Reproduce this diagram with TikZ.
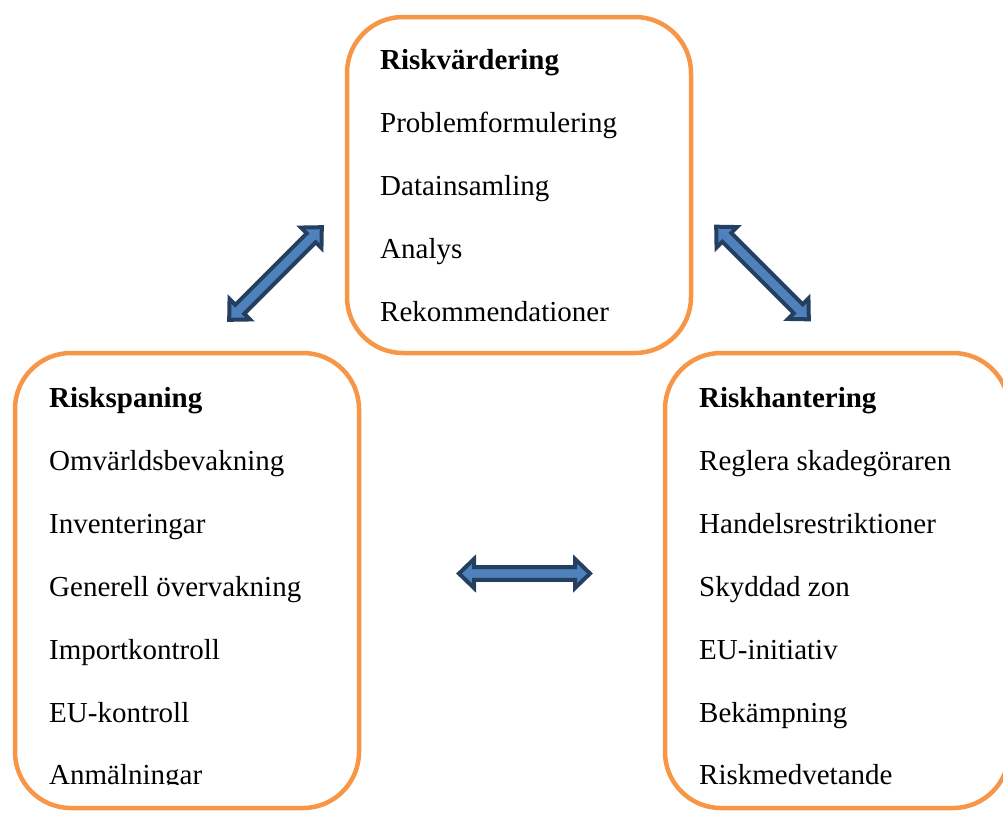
\documentclass[tikz,border=0pt]{standalone}
\usepackage{fontspec}
\setmainfont{Liberation Serif}
\definecolor{boxorange}{HTML}{F79646}
\definecolor{arrowfill}{HTML}{4F81BD}
\definecolor{arrowline}{HTML}{243F60}
\begin{document}
\begin{tikzpicture}[x=1pt,y=1pt,
  panel/.style={draw=boxorange, line width=4.5pt, rounded corners=56pt, fill=white, inner sep=0pt},
  item/.style={anchor=base west, inner sep=0pt, font=\fontsize{29}{34}\selectfont},
  head/.style={item, font=\fontsize{29}{34}\selectfont\bfseries},
  dblarrow/.style={fill=arrowfill, draw=arrowline, line width=4pt, line join=miter}]
\useasboundingbox (0,0) rectangle (1003,-812);
\clip (0,0) rectangle (1003,-812);
% boxes
\node[panel, minimum width=344pt, minimum height=336pt] (vard) at (519,-185) {};
\node[panel, minimum width=344pt, minimum height=455pt] (spaning) at (187,-580.5) {};
\node[panel, minimum width=344pt, minimum height=455pt] (hant) at (837,-580.5) {};
% top texts
\node[head] (v0) at (380,-69) {Riskvärdering};
\node[item] (v1) at (380,-132) {Problemformulering};
\node[item] (v2) at (380,-195) {Datainsamling};
\node[item] (v3) at (380,-258) {Analys};
\node[item] (v4) at (380,-321) {Rekommendationer};
% left texts
\node[head] (s0) at (49,-407) {Riskspaning};
\node[item] (s1) at (49,-470) {Omvärldsbevakning};
\node[item] (s2) at (49,-533) {Inventeringar};
\node[item] (s3) at (49,-596) {Generell övervakning};
\node[item] (s4) at (49,-659) {Importkontroll};
\node[item] (s5) at (49,-722) {EU-kontroll};
\begin{scope}
\clip (0,-700) rectangle (400,-784);
\node[item] (s6) at (49,-784) {Anmälningar};
\end{scope}
% right texts
\node[head] (h0) at (699,-407) {Riskhantering};
\node[item] (h1) at (699,-470) {Reglera skadegöraren};
\node[item] (h2) at (699,-533) {Handelsrestriktioner};
\node[item] (h3) at (699,-596) {Skyddad zon};
\node[item] (h4) at (699,-659) {EU-initiativ};
\node[item] (h5) at (699,-722) {Bekämpning};
\node[item] (h6) at (699,-784) {Riskmedvetande};
% arrows
\def\arrowpath{(-65.5,0) -- (-50.5,14.5) -- (-50.5,6.3) -- (50.5,6.3) -- (50.5,14.5) -- (65.5,0) -- (50.5,-14.5) -- (50.5,-6.3) -- (-50.5,-6.3) -- (-50.5,-14.5) -- cycle}
\coordinate (aL) at (275.5,-273.5);
\coordinate (aR) at (762.5,-273);
\coordinate (aM) at (524.5,-573.5);
\begin{scope}[shift={(aL)}, rotate=45]
\draw[dblarrow] \arrowpath;
\end{scope}
\begin{scope}[shift={(aR)}, rotate=-45]
\draw[dblarrow] \arrowpath;
\end{scope}
\begin{scope}[shift={(aM)}]
\draw[dblarrow] \arrowpath;
\end{scope}
\end{tikzpicture}
\end{document}
